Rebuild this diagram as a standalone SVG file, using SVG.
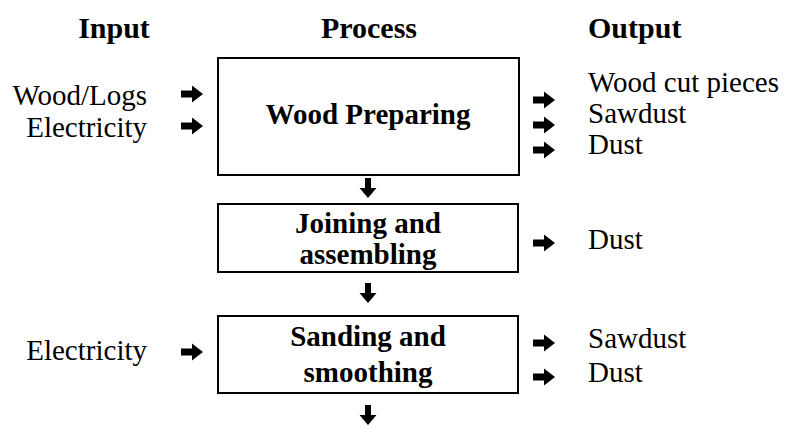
<svg xmlns="http://www.w3.org/2000/svg" width="785" height="430" viewBox="0 0 785 430" font-family="'Liberation Serif', 'DejaVu Serif', serif">
  <defs>
    <style>
      text { font-family: 'Liberation Serif', 'DejaVu Serif', serif; font-size: 29px; fill: #000; }
      .b { font-weight: bold; }
      .h { font-size: 30px; font-weight: bold; }
      .box { fill: #fff; stroke: #000; stroke-width: 2; }
    </style>
    <!-- block arrow pointing right, tip at origin -->
    <path id="ar" d="M-22,-3.5 H-11 V-8.5 L0,0 L-11,8.5 V3.5 H-22 Z" fill="#000"/>
    <!-- block arrow pointing down, tip at origin -->
    <path id="ad" d="M-3,-20 H3 V-10 L8.5,-10 L0,0 L-8.5,-10 H-3 Z" fill="#000"/>
  </defs>

  <g id="headings">
    <text class="h" x="114" y="38" text-anchor="middle">Input</text>
    <text class="h" x="369" y="38" text-anchor="middle">Process</text>
    <text class="h" x="588" y="38">Output</text>
  </g>

  <g id="wood-preparing">
    <rect class="box" x="218" y="58" width="301" height="117"/>
    <text class="b" x="368" y="124" text-anchor="middle">Wood Preparing</text>
  </g>

  <g id="joining">
    <rect class="box" x="218" y="204" width="300" height="68"/>
    <text class="b" x="368" y="233" text-anchor="middle">Joining and</text>
    <text class="b" x="368" y="264" text-anchor="middle">assembling</text>
  </g>

  <g id="sanding">
    <rect class="box" x="218" y="316" width="300" height="77"/>
    <text class="b" x="368" y="346" text-anchor="middle">Sanding and</text>
    <text class="b" x="368" y="382" text-anchor="middle">smoothing</text>
  </g>

  <g id="inputs">
    <text x="147" y="105" text-anchor="end">Wood/Logs</text>
    <text x="147" y="137" text-anchor="end">Electricity</text>
    <text x="147" y="360" text-anchor="end">Electricity</text>
  </g>

  <g id="outputs">
    <text x="588" y="92">Wood cut pieces</text>
    <text x="588" y="123">Sawdust</text>
    <text x="588" y="154">Dust</text>
    <text x="588" y="249">Dust</text>
    <text x="588" y="348">Sawdust</text>
    <text x="588" y="382">Dust</text>
  </g>

  <g id="connectors">
    <use href="#ar" x="203" y="94"/>
    <use href="#ar" x="203" y="126"/>
    <use href="#ar" x="203" y="352"/>
    <use href="#ar" x="555" y="100"/>
    <use href="#ar" x="555" y="125"/>
    <use href="#ar" x="555" y="150"/>
    <use href="#ar" x="555" y="243"/>
    <use href="#ar" x="555" y="343"/>
    <use href="#ar" x="555" y="377"/>
    <use href="#ad" x="368" y="198"/>
    <use href="#ad" x="368" y="303"/>
    <use href="#ad" x="368" y="425"/>
  </g>
</svg>
